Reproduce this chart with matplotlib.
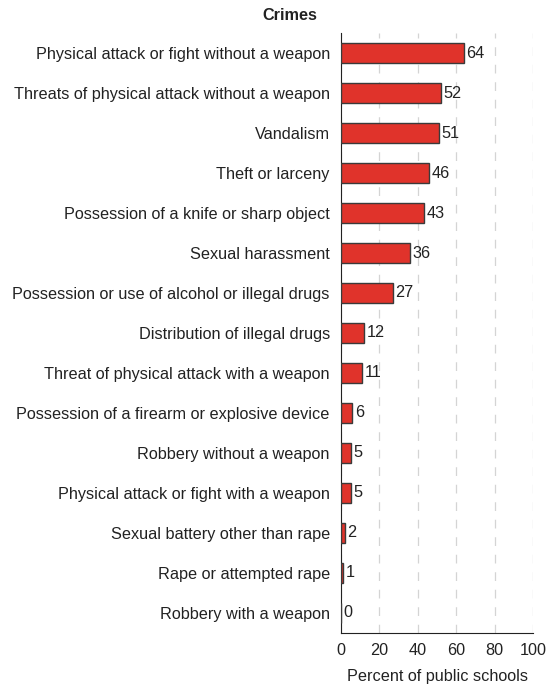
import matplotlib.pyplot as plt

crimes = [
    "Physical attack or fight without a weapon",
    "Threats of physical attack without a weapon",
    "Vandalism",
    "Theft or larceny",
    "Possession of a knife or sharp object",
    "Sexual harassment",
    "Possession or use of alcohol or illegal drugs",
    "Distribution of illegal drugs",
    "Threat of physical attack with a weapon",
    "Possession of a firearm or explosive device",
    "Robbery without a weapon",
    "Physical attack or fight with a weapon",
    "Sexual battery other than rape",
    "Rape or attempted rape",
    "Robbery with a weapon",
]
percents = [64, 52, 51, 46, 43, 36, 27, 12, 11, 6, 5, 5, 2, 1, 0]
xticks = [0, 20, 40, 60, 80, 100]

plt.rcParams["font.family"] = ["Liberation Sans", "DejaVu Sans"]
FS = 11.7

fig = plt.figure(figsize=(5.49, 6.88), dpi=100)
ax = fig.add_axes([0.621, 0.080, 0.350, 0.872])

y = list(range(len(crimes)))
ax.barh(y, percents, height=0.5, color="#e0332b", edgecolor="#3a3a3a", linewidth=1.0, zorder=3)
for yi, v in zip(y, percents):
    ax.text(v + 1.4, yi, str(v), va="center", ha="left", fontsize=FS, color="#222222")

ax.set_ylim(len(crimes) - 0.5, -0.5)
ax.set_xlim(0, 100)
ax.set_yticks(y)
ax.set_yticklabels(crimes, fontsize=FS, color="#222222")
ax.set_xticks(xticks)
ax.set_xticklabels([str(t) for t in xticks], fontsize=FS, color="#222222")
ax.tick_params(axis="y", length=0, pad=8)
ax.tick_params(axis="x", length=0, pad=7)
ax.xaxis.grid(True, color="#d4d4d4", linestyle=(0, (7, 7)), linewidth=0.9, zorder=0)
for s in ("top", "right"):
    ax.spines[s].set_visible(False)
ax.spines["left"].set_color("#222222")
ax.spines["bottom"].set_color("#222222")
ax.set_xlabel("Percent of public schools", fontsize=FS, color="#222222", labelpad=8)
fig.text(0.528, 0.977, "Crimes", ha="center", va="center", fontsize=FS, fontweight="bold", color="#222222")

fig.savefig("out.png", dpi=100)
